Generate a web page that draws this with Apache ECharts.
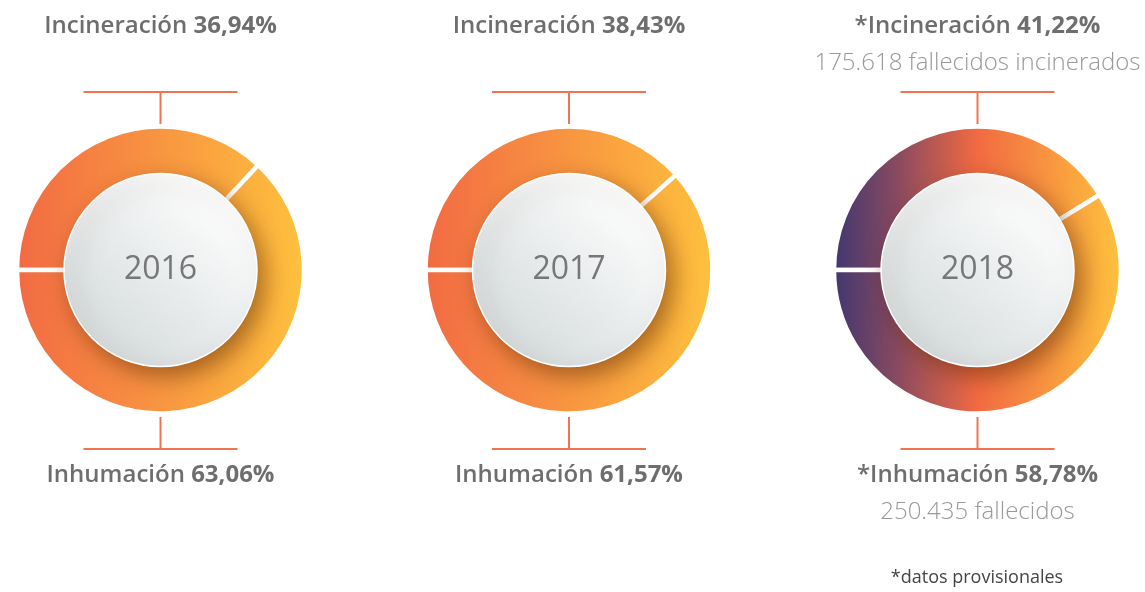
<!DOCTYPE html>
<html>
<head>
<meta charset="utf-8">
<script src="https://cdn.jsdelivr.net/npm/echarts@6/dist/echarts.min.js"></script>
<style>
html,body{margin:0;padding:0;background:#fff;}
#chart{width:1145px;height:592px;}
</style>
</head>
<body>
<div id="chart"></div>
<script>
// ---- data ----
var years = ['2016', '2017', '2018'];
var incineracion = [36.94, 38.43, 41.22];
var inhumacion = [63.06, 61.57, 58.78];
var provisional = [false, false, true];
var incineradosNote = ['', '', '175.618 fallecidos incinerados'];
var inhumadosNote = ['', '', '250.435 fallecidos'];
var footNote = '*datos provisionales';

// ---- layout / style ----
var centersX = [160.5, 569, 977.5];
var cy = 270;
var rOuter = 143.5;
var rInner = 96.5;
var FONT = '"Open Sans", "Noto Sans", sans-serif';
var lineColor = '#f27352';

function fmt(v) { return v.toFixed(2).replace('.', ','); }

var chart = echarts.init(document.getElementById('chart'), null, { renderer: 'canvas' });

var series = [];
var graphics = [];
var headRich = {
  a: { fontFamily: FONT, fontSize: 24, fontWeight: 600, fill: '#6e6e6e' },
  b: { fontFamily: FONT, fontSize: 24, fontWeight: 700, fill: '#6e6e6e' }
};

years.forEach(function (y, i) {
  var cx = centersX[i];
  var stops = provisional[i]
    ? [{ offset: 0, color: '#433870' }, { offset: 0.22, color: '#8a4a60' }, { offset: 0.5, color: '#f26a42' }, { offset: 1, color: '#fec03e' }]
    : [{ offset: 0, color: '#f26b43' }, { offset: 1, color: '#fec03e' }];
  var grad = {
    type: 'linear', global: true,
    x: cx - 141.5, y: 0, x2: cx + 141.5, y2: 0,
    colorStops: stops
  };
  series.push({
    type: 'pie',
    center: [cx, cy],
    radius: [rInner - 6, rOuter],
    startAngle: 180,
    clockwise: true,
    silent: true,
    label: { show: false },
    labelLine: { show: false },
    itemStyle: { color: grad, borderColor: '#ffffff', borderWidth: 4.5 },
    data: [
      { name: 'Incineración', value: incineracion[i] },
      { name: 'Inhumación', value: inhumacion[i] }
    ],
    z: 1
  });
  series.push({
    type: 'pie',
    center: [cx, cy],
    radius: [0, rInner],
    silent: true,
    labelLine: { show: false },
    label: {
      show: true, position: 'center', formatter: y,
      fontFamily: FONT, fontSize: 32, fontWeight: 400, color: '#777777'
    },
    itemStyle: {
      color: { type: 'linear', x: 0.85, y: 0.1, x2: 0.15, y2: 0.9,
        colorStops: [{ offset: 0, color: '#ffffff' }, { offset: 1, color: '#d4dadb' }] },
      borderColor: '#ffffff', borderWidth: 1.5,
      shadowBlur: 22, shadowColor: 'rgba(90,40,0,0.5)', shadowOffsetX: 7, shadowOffsetY: 9
    },
    data: [{ name: y, value: 1 }],
    z: 2
  });

  var star = provisional[i] ? '*' : '';
  graphics.push({
    type: 'text', x: cx, y: 26,
    style: {
      text: '{a|' + star + 'Incineración }{b|' + fmt(incineracion[i]) + '%}',
      align: 'center', verticalAlign: 'middle', rich: headRich
    }
  });
  graphics.push({
    type: 'text', x: cx, y: 475,
    style: {
      text: '{a|' + star + 'Inhumación }{b|' + fmt(inhumacion[i]) + '%}',
      align: 'center', verticalAlign: 'middle', rich: headRich
    }
  });
  if (incineradosNote[i]) {
    graphics.push({
      type: 'text', x: cx, y: 63,
      style: { text: incineradosNote[i], align: 'center', verticalAlign: 'middle',
        fontFamily: FONT, fontSize: 24, fontWeight: 300, fill: '#999999' }
    });
  }
  if (inhumadosNote[i]) {
    graphics.push({
      type: 'text', x: cx, y: 512,
      style: { text: inhumadosNote[i], align: 'center', verticalAlign: 'middle',
        fontFamily: FONT, fontSize: 24, fontWeight: 300, fill: '#999999' }
    });
  }
  // connector lines
  graphics.push({ type: 'line', shape: { x1: cx - 77, y1: 92, x2: cx + 77, y2: 92 }, style: { stroke: lineColor, lineWidth: 2 } });
  graphics.push({ type: 'line', shape: { x1: cx, y1: 92, x2: cx, y2: 124 }, style: { stroke: lineColor, lineWidth: 2 } });
  graphics.push({ type: 'line', shape: { x1: cx - 77, y1: 449, x2: cx + 77, y2: 449 }, style: { stroke: lineColor, lineWidth: 2 } });
  graphics.push({ type: 'line', shape: { x1: cx, y1: 417, x2: cx, y2: 449 }, style: { stroke: lineColor, lineWidth: 2 } });
});

graphics.push({
  type: 'text', x: 977, y: 578,
  style: { text: footNote, align: 'center', verticalAlign: 'middle',
    fontFamily: FONT, fontSize: 18, fontWeight: 400, fill: '#444444' }
});

chart.setOption({
  animation: false,
  series: series,
  graphic: { elements: graphics }
});
</script>
</body>
</html>
